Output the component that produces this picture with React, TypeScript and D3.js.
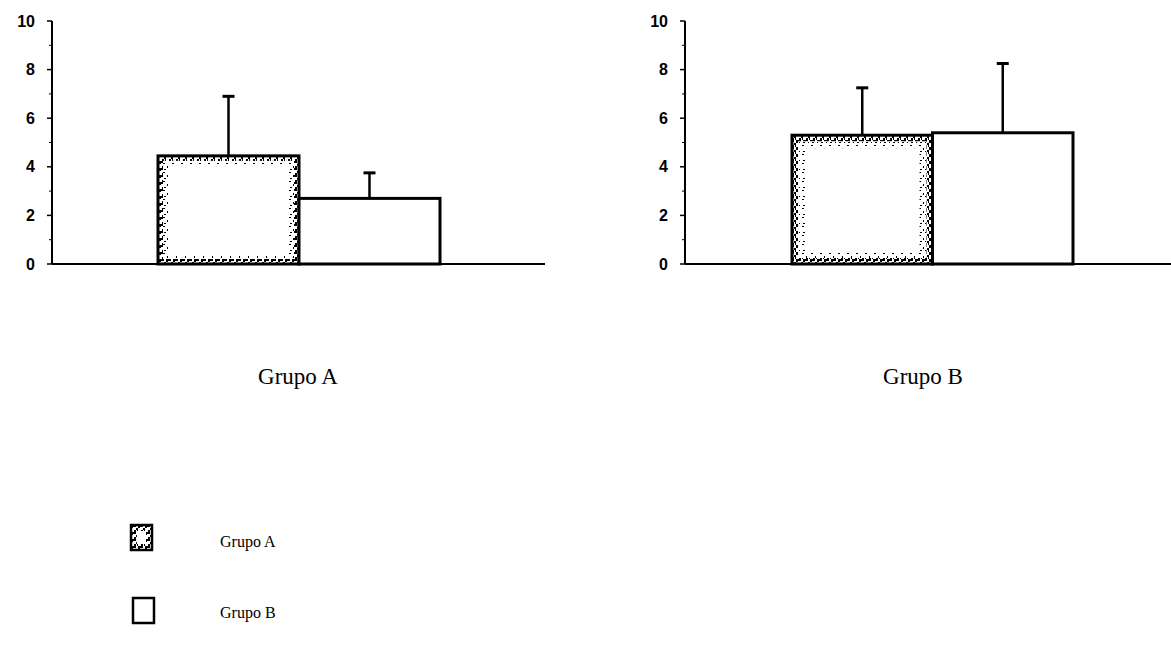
import React from "react";
import * as d3 from "d3";

const panels = ["Grupo A", "Grupo B"];
const series = ["Grupo A", "Grupo B"];
const meansPanelA = [4.45, 2.7];
const upperPanelA = [6.9, 3.75];
const meansPanelB = [5.3, 5.4];
const upperPanelB = [7.25, 8.25];
const yTicks = [0, 2, 4, 6, 8, 10];
const yMinor = [1, 3, 5, 7, 9];

const W = 1171;
const H = 648;

const y = d3.scaleLinear().domain([0, 10]).range([264, 21]);

const layouts = [
  { axisX: 52, baseEnd: 545, bars: [158, 440], label: 298, means: meansPanelA, upper: upperPanelA },
  { axisX: 685, baseEnd: 1171, bars: [792, 1073], label: 923, means: meansPanelB, upper: upperPanelB },
];

function Panel({ idx }: { idx: number }) {
  const L = layouts[idx];
  const x = d3.scaleBand<string>().domain(series).range(L.bars as [number, number]).paddingInner(0);
  return (
    <g>
      <line x1={L.axisX} x2={L.axisX} y1={y(10)} y2={y(0)} stroke="#000" strokeWidth={2} />
      <line x1={L.axisX} x2={L.baseEnd} y1={y(0)} y2={y(0)} stroke="#000" strokeWidth={2} />
      {yTicks.map((t) => (
        <g key={t}>
          <line x1={L.axisX - 5} x2={L.axisX} y1={y(t)} y2={y(t)} stroke="#000" strokeWidth={1.5} />
          <text
            x={L.axisX - 17}
            y={y(t)}
            dy="0.35em"
            textAnchor="end"
            fontFamily="'Liberation Sans', Arial, sans-serif"
            fontWeight="bold"
            fontSize={16}
          >
            {t}
          </text>
        </g>
      ))}
      {yMinor.map((t) => (
        <line key={t} x1={L.axisX - 3} x2={L.axisX} y1={y(t)} y2={y(t)} stroke="#000" strokeWidth={1} />
      ))}
      {series.map((s, i) => {
        const x0 = x(s)!;
        const bw = x.bandwidth();
        const cx = x0 + bw / 2;
        const top = y(L.means[i]);
        const h = y(0) - top;
        return (
          <g key={s}>
            <line x1={cx} x2={cx} y1={y(L.upper[i])} y2={top} stroke="#000" strokeWidth={2.5} />
            <line x1={cx - 6} x2={cx + 6} y1={y(L.upper[i])} y2={y(L.upper[i])} stroke="#000" strokeWidth={3} />
            {i === 0 ? (
              <g>
                <rect x={x0} y={top} width={bw} height={h} fill="#fff" />
                <rect
                  x={x0 + 6}
                  y={top + 6}
                  width={bw - 12}
                  height={h - 12}
                  fill="none"
                  stroke="url(#speckLight)"
                  strokeWidth={idx === 1 ? 14 : 8}
                />
                <rect
                  x={x0 + 3}
                  y={top + 3}
                  width={bw - 6}
                  height={h - 6}
                  fill="none"
                  stroke="url(#speck)"
                  strokeWidth={idx === 1 ? 6 : 4}
                />
                <rect x={x0} y={top} width={bw} height={h} fill="none" stroke="#000" strokeWidth={3} />
              </g>
            ) : (
              <rect x={x0} y={top} width={bw} height={h} fill="#fff" stroke="#000" strokeWidth={3} />
            )}
          </g>
        );
      })}
      <text
        x={L.label}
        y={384}
        textAnchor="middle"
        fontFamily="'Liberation Serif', 'Times New Roman', serif"
        fontSize={23}
      >
        {panels[idx]}
      </text>
    </g>
  );
}

export default function App() {
  return (
    <svg width={W} height={H} style={{ position: "absolute", left: 0, top: 0, background: "#fff" }}>
      <defs>
        <pattern id="speck" width="7" height="7" patternUnits="userSpaceOnUse">
          <rect width="7" height="7" fill="#fff" />
          <rect x="0" y="0" width="3" height="2" fill="#000" />
          <rect x="3" y="3" width="2" height="2" fill="#000" />
          <rect x="5" y="0" width="2" height="3" fill="#000" />
          <rect x="1" y="5" width="2" height="2" fill="#000" />
          <rect x="4" y="5" width="1" height="2" fill="#000" />
        </pattern>
        <pattern id="speckLight" width="9" height="9" patternUnits="userSpaceOnUse">
          <rect width="9" height="9" fill="#fff" />
          <rect x="1" y="1" width="2" height="1" fill="#000" />
          <rect x="5" y="4" width="1" height="2" fill="#000" />
          <rect x="2" y="7" width="2" height="1" fill="#000" />
          <rect x="7" y="7" width="1" height="1" fill="#000" />
        </pattern>
      </defs>
      <rect width={W} height={H} fill="#fff" />
      <Panel idx={0} />
      <Panel idx={1} />
      <g>
        <rect x={131} y={525} width={21} height={25} fill="#fff" />
        <rect x={134} y={528} width={15} height={19} fill="none" stroke="url(#speck)" strokeWidth={6} />
        <rect x={131} y={525} width={21} height={25} fill="none" stroke="#000" strokeWidth={2.5} />
        <rect x={133} y={598} width={21} height={25} fill="#fff" stroke="#000" strokeWidth={2.5} />
        {series.map((s, i) => (
          <text
            key={s}
            x={220}
            y={i === 0 ? 547 : 618}
            fontFamily="'Liberation Serif', 'Times New Roman', serif"
            fontSize={16}
          >
            {s}
          </text>
        ))}
      </g>
    </svg>
  );
}
